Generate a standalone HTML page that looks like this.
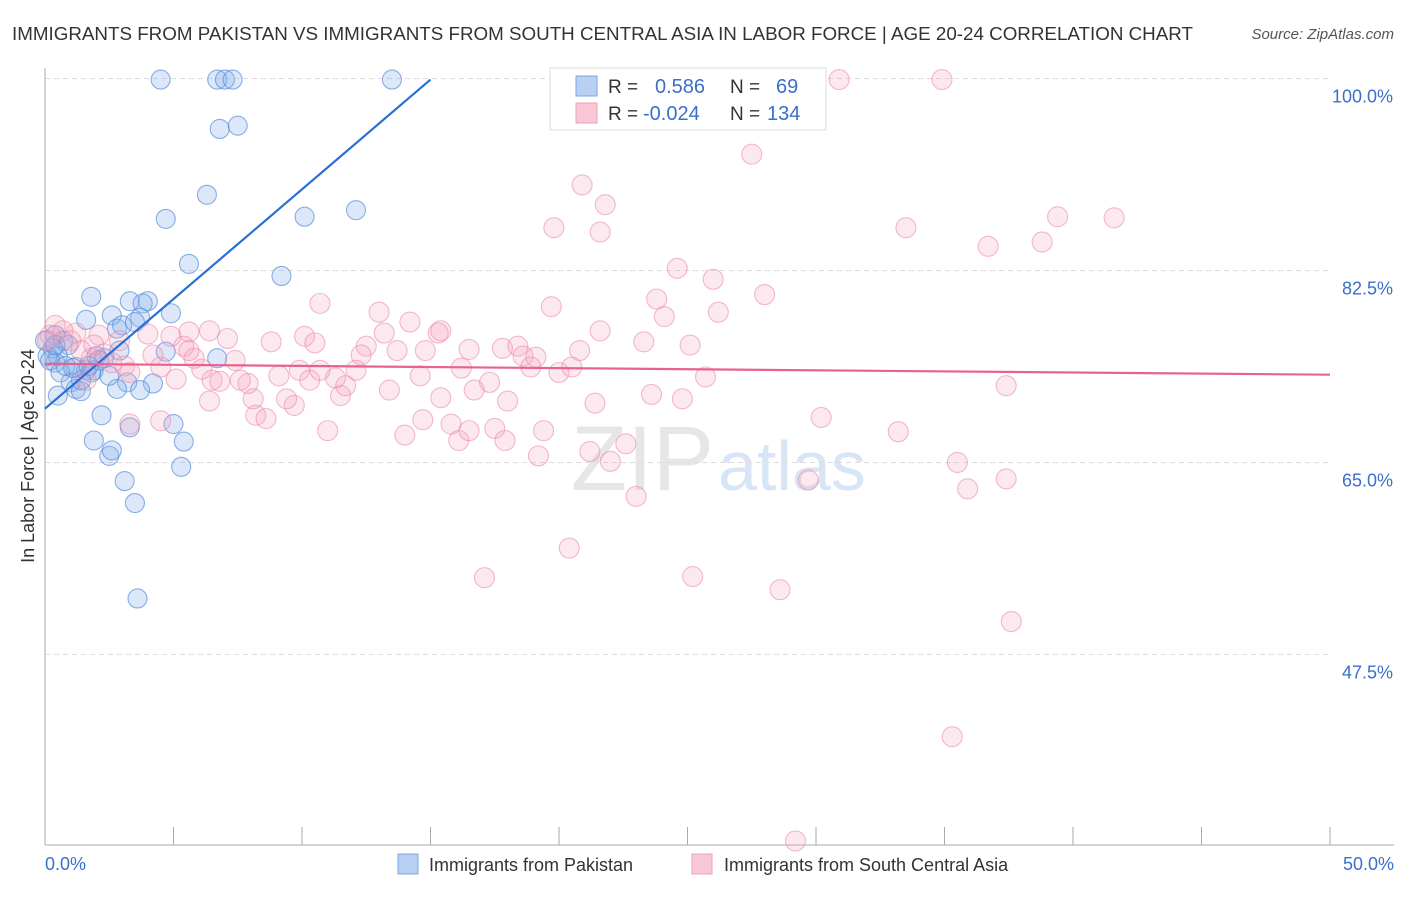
<!DOCTYPE html>
<html><head><meta charset="utf-8"><style>
body{margin:0;background:#fff;font-family:"Liberation Sans",sans-serif;}
svg text{font-family:"Liberation Sans",sans-serif;}
</style></head><body>
<svg id="chart" width="1406" height="892">
<text x="12" y="40" font-size="18.8" fill="#333">IMMIGRANTS FROM PAKISTAN VS IMMIGRANTS FROM SOUTH CENTRAL ASIA IN LABOR FORCE | AGE 20-24 CORRELATION CHART</text>
<text x="1394" y="39" font-size="15" fill="#555" font-style="italic" text-anchor="end">Source: ZipAtlas.com</text>
<text x="714" y="490" font-size="92" fill="#e6e6e6" font-family="Liberation Serif,serif" text-anchor="end">ZIP</text>
<text x="718" y="490" font-size="70" fill="#d8e5f5">atlas</text>
<g id="grid"></g>
<g id="axes"></g>
<g id="blue"></g>
<g id="pink"></g>
<g id="trends"></g>
<text transform="translate(34,456) rotate(-90)" font-size="18" fill="#333" text-anchor="middle">In Labor Force | Age 20-24</text>
<text x="45" y="870" font-size="18" fill="#3b6fc9">0.0%</text>
<text x="1394" y="870" font-size="18" fill="#3b6fc9" text-anchor="end">50.0%</text>
<g>
<rect x="550" y="68" width="276" height="62" fill="#fff" stroke="#ddd"/>
<rect x="576" y="76" width="21" height="20" fill="#b8d1f3" stroke="#7aa5e0"/>
<rect x="576" y="103" width="21" height="20" fill="#f9c8d6" stroke="#f0a0b8"/>
<text x="608" y="93" font-size="19" fill="#333">R =</text>
<text x="655" y="93" font-size="20" fill="#3b6fc9">0.586</text>
<text x="730" y="93" font-size="19" fill="#333">N =</text>
<text x="776" y="93" font-size="20" fill="#3b6fc9">69</text>
<text x="608" y="120" font-size="19" fill="#333">R =</text>
<text x="643" y="120" font-size="20" fill="#3b6fc9">-0.024</text>
<text x="730" y="120" font-size="19" fill="#333">N =</text>
<text x="767" y="120" font-size="20" fill="#3b6fc9">134</text>
</g>
<g>
<rect x="398" y="854" width="20" height="20" fill="#b8d1f3" stroke="#7aa5e0"/>
<text x="429" y="871" font-size="18" fill="#333">Immigrants from Pakistan</text>
<rect x="692" y="854" width="20" height="20" fill="#f9c8d6" stroke="#f0a0b8"/>
<text x="724" y="871" font-size="18" fill="#333">Immigrants from South Central Asia</text>
</g>
</svg>
<script>
const yTicks=[100,82.5,65,47.5];
const yTickLabels=["100.0%","82.5%","65.0%","47.5%"];
const xTicks=[0,5,10,15,20,25,30,35,40,45,50];
const blueX=[4.5,6.7,7.0,7.3,13.5,6.8,7.5,6.3,4.7,10.1,12.1,5.6,9.2,1.8,3.3,4.0,3.8,1.6,2.6,3.7,4.9,2.8,3.0,3.5,0.4,0.7,0.9,0.3,0.5,0.4,2.0,2.3,4.7,6.7,1.2,1.6,1.9,1.0,1.2,1.4,3.2,2.8,4.2,0.5,2.2,1.9,3.3,5.0,5.4,2.5,2.6,5.3,3.1,3.5,3.6,0.1,0.2,0.6,1.8,1.4,0.8,2.1,2.9,0.0,0.4,1.1,1.7,3.7,2.5];
const blueY=[99.9,99.9,99.9,99.9,99.9,95.4,95.7,89.4,87.2,87.4,88.0,83.1,82.0,80.1,79.7,79.7,79.5,78.0,78.4,78.2,78.6,77.2,77.5,77.8,76.6,76.1,75.7,75.4,74.7,74.1,74.7,74.5,75.1,74.5,73.7,73.4,73.4,72.3,71.7,71.5,72.3,71.7,72.2,71.1,69.3,67.0,68.2,68.5,66.9,65.6,66.1,64.6,63.3,61.3,52.6,74.7,74.3,73.2,73.2,72.5,73.8,74.3,75.2,76.1,75.7,73.6,73.8,71.6,72.9];
const pinkX=[30.9,34.9,27.5,20.9,21.8,19.8,21.6,33.5,39.4,41.6,38.8,36.7,24.6,26.0,28.0,23.8,19.7,10.7,13.0,14.2,24.1,26.2,13.2,15.3,10.1,10.5,8.8,5.6,6.4,7.1,4.9,4.0,12.5,14.8,13.7,16.5,17.8,18.4,20.8,23.3,12.3,18.6,19.1,16.2,18.9,20.0,20.5,25.7,13.4,15.4,17.3,16.7,18.0,21.4,23.6,24.8,37.4,30.2,33.2,14.0,14.7,15.8,16.1,16.5,17.5,17.9,19.4,19.2,21.2,22.0,22.6,23.0,29.7,35.5,35.9,37.4,20.4,17.1,25.2,28.6,37.6,35.3,29.2,8.2,8.6,9.7,11.0,11.5,11.7,12.1,9.4,8.1,7.9,7.4,6.5,6.8,6.1,5.1,4.5,5.8,5.4,4.2,3.1,3.3,2.6,2.3,1.8,1.4,1.2,0.7,0.4,0.2,0.1,1.0,2.1,2.9,9.1,9.9,10.3,11.3,14.6,3.3,21.6,25.1,7.6,6.4,5.6,4.5,1.9,1.6,10.7,15.4];
const pinkY=[99.9,99.9,93.1,90.3,88.5,86.4,86.0,86.4,87.4,87.3,85.1,84.7,82.7,81.7,80.3,79.9,79.2,79.5,78.7,77.8,78.3,78.7,76.8,76.8,76.5,75.9,76.0,76.9,77.0,76.3,76.5,76.7,75.6,75.2,75.2,75.3,75.4,75.6,75.2,76.0,74.8,74.7,74.6,73.6,73.7,73.2,73.7,72.8,71.6,70.9,72.3,71.6,70.6,70.4,71.2,70.8,72.0,69.1,67.8,67.5,68.9,68.5,67.0,67.9,68.1,67.0,67.9,65.6,66.0,65.1,66.7,61.9,63.4,65.0,62.6,63.5,57.2,54.5,54.6,53.4,50.5,40.0,30.5,69.3,69.0,70.2,67.9,71.1,72.0,73.4,70.8,70.8,72.2,74.3,72.5,72.4,73.5,72.6,73.7,74.5,75.6,74.8,73.8,73.2,74.1,74.9,74.5,75.2,76.8,77.0,77.5,76.6,76.1,76.1,76.6,76.1,72.9,73.4,72.5,72.7,72.9,68.5,77.0,75.7,72.5,70.6,75.2,68.8,75.7,72.5,73.4,77.0];
const blueTrend=[[0,69.9],[15.0,99.9]];
const pinkTrend=[[0,74.0],[50,73.0]];

const NS="http://www.w3.org/2000/svg";
const X0=45,X1=1330,Y100=78.5,YPX=10.97;
function sx(v){return X0+(v/50)*(X1-X0);}
function sy(v){return Y100+(100-v)*YPX;}
function mk(tag,attrs,parent){const e=document.createElementNS(NS,tag);for(const k in attrs)e.setAttribute(k,attrs[k]);document.getElementById(parent).appendChild(e);return e;}

yTicks.forEach((t,i)=>{
  const l=mk('line',{x1:X0,x2:X1,y1:sy(t),y2:sy(t),stroke:'#ddd','stroke-dasharray':'5,4'},'grid');
  
  
  const tx=mk('text',{x:1393,y:sy(t)+24,'font-size':18,fill:'#3b6fc9','text-anchor':'end'},'grid');
  tx.textContent=yTickLabels[i];
  
  
});
const ya=mk('line',{x1:X0,x2:X0,y1:68,y2:845,stroke:'#aaa'},'axes');


const xa=mk('line',{x1:X0,x2:1394,y1:845,y2:845,stroke:'#aaa'},'axes');


xTicks.forEach(t=>{
  const l=mk('line',{x1:sx(t),x2:sx(t),y1:827,y2:845,stroke:'#aaa'},'axes');
  
  
});
blueX.forEach((v,i)=>{
  const c=mk('circle',{cx:sx(v),cy:sy(blueY[i]),r:9.5,fill:'rgba(140,180,235,0.3)',stroke:'rgba(80,135,215,0.65)','stroke-width':1.1},'blue');
  
  
});
pinkX.forEach((v,i)=>{
  const c=mk('circle',{cx:sx(v),cy:sy(pinkY[i]),r:10,fill:'rgba(245,165,190,0.25)',stroke:'rgba(235,130,165,0.55)','stroke-width':1.1},'pink');
  
  
});
const bt=mk('line',{x1:sx(blueTrend[0][0]),y1:sy(blueTrend[0][1]),x2:sx(blueTrend[1][0]),y2:sy(blueTrend[1][1]),stroke:'#2a6fd6','stroke-width':2.2},'trends');


const pt=mk('line',{x1:sx(pinkTrend[0][0]),y1:sy(pinkTrend[0][1]),x2:sx(pinkTrend[1][0]),y2:sy(pinkTrend[1][1]),stroke:'#e8628f','stroke-width':2.2},'trends');


</script>
</body></html>
